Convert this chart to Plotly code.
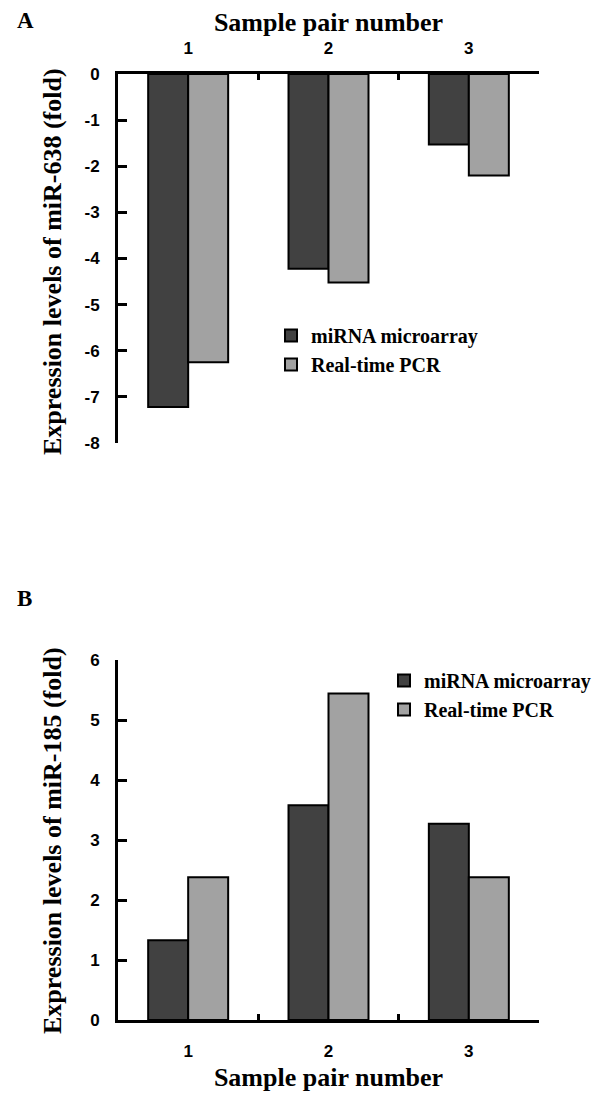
import plotly.graph_objects as go

categories = ["1", "2", "3"]
series_names = ["miRNA microarray", "Real-time PCR"]
a_microarray = [-7.22, -4.22, -1.53]
a_pcr = [-6.25, -4.52, -2.2]
b_microarray = [1.33, 3.58, 3.27]
b_pcr = [2.38, 5.44, 2.38]
a_yticks = [0, -1, -2, -3, -4, -5, -6, -7, -8]
b_yticks = [0, 1, 2, 3, 4, 5, 6]
a_ytitle = "Expression levels of miR-638 (fold)"
b_ytitle = "Expression levels of miR-185 (fold)"
xtitle = "Sample pair number"

dark = "#414141"
light = "#a2a2a2"
W, H = 610, 1097
OFF = 8  # page body margin offset compensation


def px(p):
    return (p - OFF) / W


def py(p):
    return 1 - (p - OFF) / H


fig = go.Figure()
for vals, name, col in [(a_microarray, series_names[0], dark), (a_pcr, series_names[1], light)]:
    fig.add_trace(go.Bar(x=categories, y=vals, name=name, marker=dict(color=col, line=dict(color="black", width=2)),
                         xaxis="x", yaxis="y", legend="legend"))
for vals, name, col in [(b_microarray, series_names[0], dark), (b_pcr, series_names[1], light)]:
    fig.add_trace(go.Bar(x=categories, y=vals, name=name, marker=dict(color=col, line=dict(color="black", width=2)),
                         xaxis="x2", yaxis="y2", legend="legend2"))

tickfont = dict(family="Liberation Sans", size=17, color="black", weight="bold")
xtitlefont = dict(family="Liberation Serif", size=26, color="black", weight="bold")
ytitlefont = dict(family="Liberation Serif", size=26, color="black", weight="bold")
legfont = dict(family="Liberation Serif", size=20, color="black", weight="bold")

xdom = [px(118), px(539)]

common_x = dict(type="category", showline=True, linewidth=3, linecolor="black", ticks="inside",
                tickson="boundaries", ticklen=6, tickwidth=3, tickcolor="black", tickfont=tickfont,
                showgrid=False, zeroline=False, domain=xdom, fixedrange=True, automargin=False)
common_y = dict(showline=True, linewidth=3, linecolor="black", ticks="inside", ticklen=9, tickwidth=3,
                tickcolor="black", tickfont=tickfont, showgrid=False, zeroline=False, fixedrange=True,
                ticklabelstandoff=12, automargin=False)

fig.update_layout(
    width=W, height=H, margin=dict(l=0, r=0, t=0, b=0),
    paper_bgcolor="white", plot_bgcolor="white",
    barmode="group", bargap=0.43, bargroupgap=0,
    xaxis=dict(common_x, side="top", anchor="y", ticklabelstandoff=10,
               title=dict(text=xtitle, font=xtitlefont, standoff=5)),
    yaxis=dict(common_y, domain=[py(443), py(74)], range=[-8, 0], tickvals=a_yticks,
               ticktext=[str(v) for v in a_yticks], anchor="x"),
    xaxis2=dict(common_x, side="bottom", anchor="y2", ticklabelstandoff=14,
                title=dict(text=xtitle, font=xtitlefont, standoff=8)),
    yaxis2=dict(common_y, domain=[py(1020), py(660)], range=[0, 6], tickvals=b_yticks,
                ticktext=[str(v) for v in b_yticks], anchor="x2"),
    legend=dict(x=px(271), y=py(316), xanchor="left", yanchor="top", font=legfont, bgcolor="rgba(0,0,0,0)",
                itemwidth=30, tracegroupgap=0),
    legend2=dict(x=px(384), y=py(661), xanchor="left", yanchor="top", font=legfont, bgcolor="rgba(0,0,0,0)",
                 itemwidth=30, tracegroupgap=0),
    annotations=[
        dict(text="A", x=px(15), y=py(20), xref="paper", yref="paper", xanchor="left", yanchor="middle",
             showarrow=False, font=dict(family="Liberation Serif", size=23, color="black", weight="bold")),
        dict(text="B", x=px(15), y=py(598), xref="paper", yref="paper", xanchor="left", yanchor="middle",
             showarrow=False, font=dict(family="Liberation Serif", size=23, color="black", weight="bold")),
        dict(text=a_ytitle, x=px(52), y=py(262), xref="paper", yref="paper", xanchor="center", yanchor="middle",
             textangle=-90, showarrow=False, font=ytitlefont),
        dict(text=b_ytitle, x=px(52), y=py(841), xref="paper", yref="paper", xanchor="center", yanchor="middle",
             textangle=-90, showarrow=False, font=ytitlefont),
    ],
)

fig.write_html("out.html")
